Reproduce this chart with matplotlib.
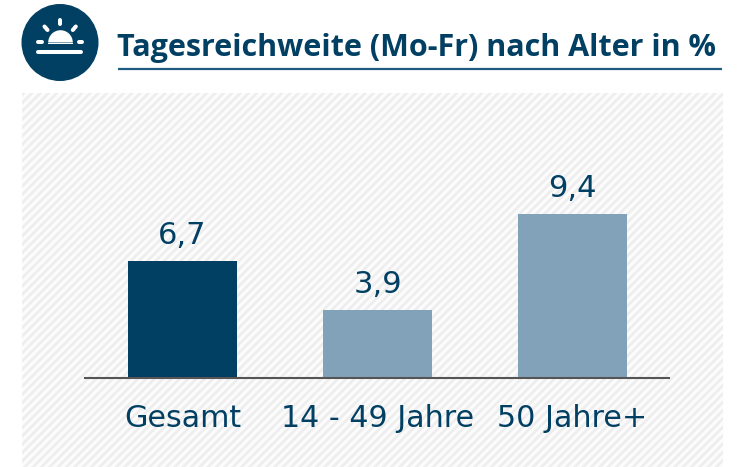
import matplotlib
matplotlib.use("Agg")
import matplotlib.pyplot as plt
from matplotlib.patches import Rectangle, Circle, Wedge

categories = ["Gesamt", "14 - 49 Jahre", "50 Jahre+"]
values = [6.7, 3.9, 9.4]
value_labels = ["6,7", "3,9", "9,4"]
bar_colors = ["#013f63", "#82a2ba", "#82a2ba"]
title = "Tagesreichweite (Mo-Fr) nach Alter in %"
NAVY = "#013f63"
W, H = 743, 467

plt.rcParams["font.family"] = "DejaVu Sans"
plt.rcParams["hatch.linewidth"] = 2.0
plt.rcParams["hatch.color"] = "#eeeeee"
fig = plt.figure(figsize=(W / 100, H / 100), dpi=100, facecolor="white")

# page layer in pixel coordinates
bg = fig.add_axes([0, 0, 1, 1])
bg.set_xlim(0, W)
bg.set_ylim(H, 0)
bg.axis("off")
bg.add_patch(Rectangle((22, 93), 701, 374, facecolor="#fcfcfc", edgecolor="#eeeeee", hatch="////", lw=0))
bg.add_patch(Circle((60, 42.5), 37.8, color=NAVY))
bg.add_patch(Wedge((60.5, 42.5), 12.3, 180, 360, color="white", lw=0))
bg.add_patch(Rectangle((48.2, 42.5), 24.6, 1.6, color="white", lw=0))
for (x0, y0, x1, y1) in [(37.7, 52, 81.3, 52), (38, 42.3, 42.3, 42.3), (78.7, 42.3, 82.3, 42.3),
                         (60.3, 20.3, 60.3, 24), (44.5, 26.5, 47.5, 30), (75.8, 26.5, 72.8, 30)]:
    bg.plot([x0, x1], [y0, y1], color="white", lw=2.9, solid_capstyle="round")
bg.plot([118, 722], [68.5, 68.5], color="#1d5b80", lw=1.6, solid_capstyle="butt")
bg.text(117, 56, title, color=NAVY, fontsize=22, family="Open Sans", fontweight="bold",
        ha="left", va="baseline")

# chart
ax = fig.add_axes([85 / W, 1 - 378 / H, 584 / W, 200 / H], facecolor="none")
xs = range(len(categories))
ax.bar(xs, values, width=0.56, color=bar_colors, zorder=2)
ax.set_xlim(-0.5, 2.495)
ax.set_ylim(0, 200 / 17.4)
for x, v, s in zip(xs, values, value_labels):
    ax.annotate(s, (x, v), xytext=(0, 17), textcoords="offset pixels", ha="center", va="baseline",
                color=NAVY, fontsize=22)
ax.set_xticks(list(xs))
ax.set_xticklabels(categories, color=NAVY, fontsize=21.7)
ax.tick_params(axis="x", length=0, pad=19)
ax.set_yticks([])
for side in ["top", "left", "right"]:
    ax.spines[side].set_visible(False)
ax.spines["bottom"].set_color("#555555")
ax.spines["bottom"].set_linewidth(1.5)

fig.savefig("out.png", dpi=100)
